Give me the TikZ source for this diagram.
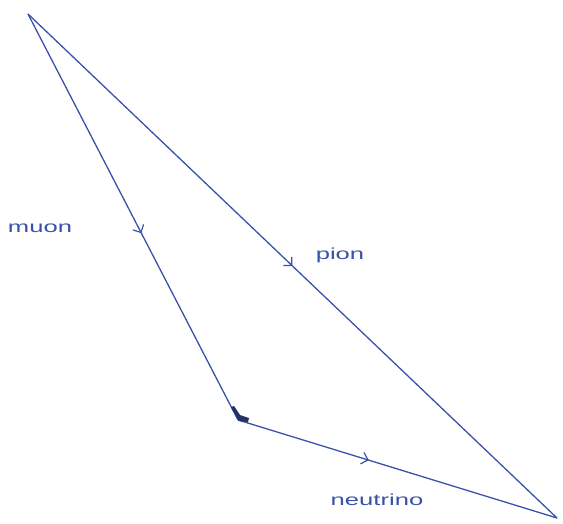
\documentclass[tikz,border=0pt]{standalone}
\usepackage{fontspec}
\setmainfont{Liberation Sans}
\usetikzlibrary{arrows.meta,decorations.markings}
\definecolor{ink}{RGB}{58,82,168}
\tikzset{
  leg/.style={draw=ink, line width=1.3pt,
    postaction={decorate, decoration={markings,
      mark=at position #1 with {\arrow[ink, line width=1.2pt]{Straight Barb[length=6pt, width=12pt]}}}}},
  lbl/.style={text=ink, font=\fontsize{16}{18}\selectfont, xscale=1.6, inner sep=0pt}
}
\begin{document}
\begin{tikzpicture}[x=1pt, y=-1pt]
\useasboundingbox (0,0) rectangle (563,524);
\coordinate (top) at (28,14);
\coordinate (mid) at (238,420);
\coordinate (end) at (557,518);
\draw[leg=0.54] (top) -- (mid);
\draw[leg=0.5] (top) -- (end);
\draw[leg=0.41] (mid) -- (end);
\fill[ink!60!black] (mid) ++(-7,-13) -- ++(3,-1) -- ++(6,9) -- ++(9,3) -- ++(-1,4) -- ++(-9,-1) -- cycle;
\node[lbl] (muon) at (40,228) {muon};
\node[lbl] (pion) at (340,255) {pion};
\node[lbl] (neutrino) at (377,500) {neutrino};
\end{tikzpicture}
\end{document}
